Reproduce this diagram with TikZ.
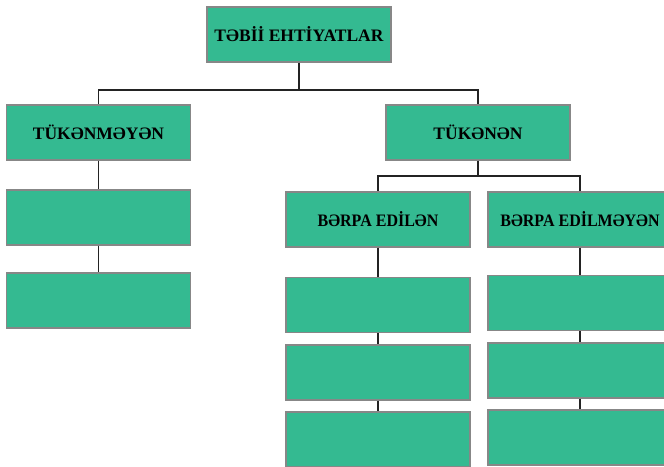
\documentclass[tikz,border=0pt]{standalone}
\usepackage{fontspec}
\setmainfont{Liberation Serif}
\definecolor{boxfill}{RGB}{52,186,145}
\definecolor{boxline}{RGB}{135,135,135}
\definecolor{conn}{RGB}{35,35,35}
\newcommand{\narrowtext}[1]{\scalebox{0.915}[1]{#1}}
\begin{document}
\begin{tikzpicture}[x=1pt,y=-1pt,
  box/.style={draw=boxline, line width=1.1pt, fill=boxfill, minimum width=184pt, minimum height=55pt, inner sep=0pt, font=\bfseries\fontsize{17.5}{20}\selectfont},
  conline/.style={draw=conn, line width=1.4pt}]
\useasboundingbox (0,0) rectangle (664,466);
\clip (0,0) rectangle (664,466);
\node[box] (top) at (299,34.5) {TƏBİİ EHTİYATLAR};
\node[box] (tn) at (98.5,132.5) {TÜKƏNMƏYƏN};
\node[box] (tk) at (478,132.5) {TÜKƏNƏN};
\node[box] (l1) at (98.5,217.5) {};
\node[box] (l2) at (98.5,300.5) {};
\node[box] (be) at (378,219.5) {\narrowtext{BƏRPA EDİLƏN}};
\node[box] (bm) at (580,219.5) {\narrowtext{BƏRPA EDİLMƏYƏN}};
\node[box] (r1) at (378,305) {};
\node[box] (r2) at (378,372.5) {};
\node[box] (r3) at (378,439.5) {};
\node[box] (m1) at (580,303) {};
\node[box] (m2) at (580,370.5) {};
\node[box] (m3) at (580,437.5) {};
\coordinate (h1) at (299,90);
\coordinate (h2) at (478,176);
\draw[conline] (top.south) -- (h1) -| (tn.north);
\draw[conline] (h1) -| (tk.north);
\draw[conline] (tk.south) -- (h2) -| (be.north);
\draw[conline] (h2) -| (bm.north);
\draw[conline] (tn.south) -- (l1.north);
\draw[conline] (l1.south) -- (l2.north);
\draw[conline] (be.south) -- (r1.north);
\draw[conline] (r1.south) -- (r2.north);
\draw[conline] (r2.south) -- (r3.north);
\draw[conline] (bm.south) -- (m1.north);
\draw[conline] (m1.south) -- (m2.north);
\draw[conline] (m2.south) -- (m3.north);
\end{tikzpicture}
\end{document}
